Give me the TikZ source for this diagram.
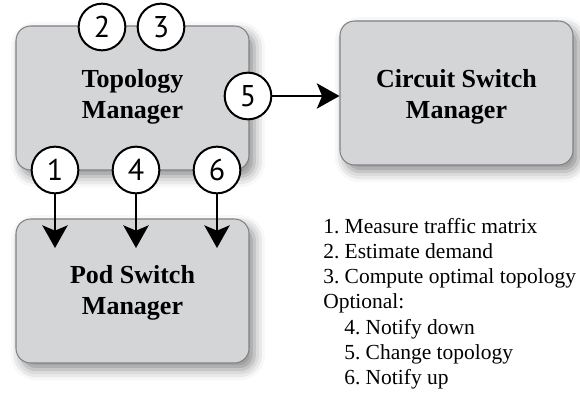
\documentclass[tikz,border=0pt]{standalone}
\usepackage{fontspec}
\setmainfont{Liberation Serif}
\newfontfamily\numfont{PT Sans}
\usetikzlibrary{arrows.meta,shadows.blur}
\definecolor{boxfill}{RGB}{212,213,215}
\definecolor{boxline}{RGB}{128,130,133}
\tikzset{
  mgrbox/.style={draw=boxline, line width=0.8pt, fill=boxfill, rounded corners=11pt,
    minimum width=174.75pt, minimum height=108pt, inner sep=0pt,
    blur shadow={shadow xshift=4pt, shadow yshift=-5pt, shadow blur radius=8pt, shadow opacity=45}},
  mgrtext/.style={align=center, font=\bfseries\fontsize{19.5}{23.2}\selectfont},
  numcirc/.style={circle, draw=black, line width=1.5pt, fill=white, minimum size=35pt,
    inner sep=0pt, font=\numfont\fontsize{22.5}{24}\selectfont},
  flow/.style={line width=1.5pt, -{Stealth[length=17pt,width=19pt,inset=4pt]}},
  legend/.style={anchor=base west, inner sep=0pt, font=\frenchspacing\fontsize{16.1}{19}\selectfont}
}
\begin{document}
\begin{tikzpicture}[x=0.75pt,y=-0.75pt]
\useasboundingbox (0,0) rectangle (580,392);
% boxes
\node[mgrbox] (topo) at (132.5,98) {};
\node[mgrbox] (pod) at (132.5,291) {};
\node[mgrbox] (circ) at (456.5,93) {};
\node[mgrtext] (topotxt) at (132.5,97) {Topology\\Manager};
\node[mgrtext] (podtxt) at (132.5,293) {Pod Switch\\Manager};
\node[mgrtext] (circtxt) at (456.5,97) {Circuit Switch\\Manager};
% tip level
\coordinate (tipy) at (0,248);
% circles
\node[numcirc] (c2) at (102,27) {2};
\node[numcirc] (c3) at (161,27) {3};
\node[numcirc] (c5) at (248,96) {5};
\node[numcirc] (c1) at (55,170) {1};
\node[numcirc] (c4) at (136,170) {4};
\node[numcirc] (c6) at (217,170) {6};
% arrows
\draw[flow] (c1.south) -- (c1.south |- tipy);
\draw[flow] (c4.south) -- (c4.south |- tipy);
\draw[flow] (c6.south) -- (c6.south |- tipy);
\draw[flow] (c5.east) -- (c5.east -| circ.west);
% legend
\node[legend] (l1) at (323,233) {1. Measure traffic matrix};
\node[legend] (l2) at (323,258.3) {2. Estimate demand};
\node[legend] (l3) at (323,283.6) {3. Compute optimal topology};
\node[legend] (l4) at (323,308.9) {Optional:};
\node[legend] (l5) at (344,334.2) {4. Notify down};
\node[legend] (l6) at (344,359.5) {5. Change topology};
\node[legend] (l7) at (344,384.8) {6. Notify up};
\end{tikzpicture}
\end{document}
